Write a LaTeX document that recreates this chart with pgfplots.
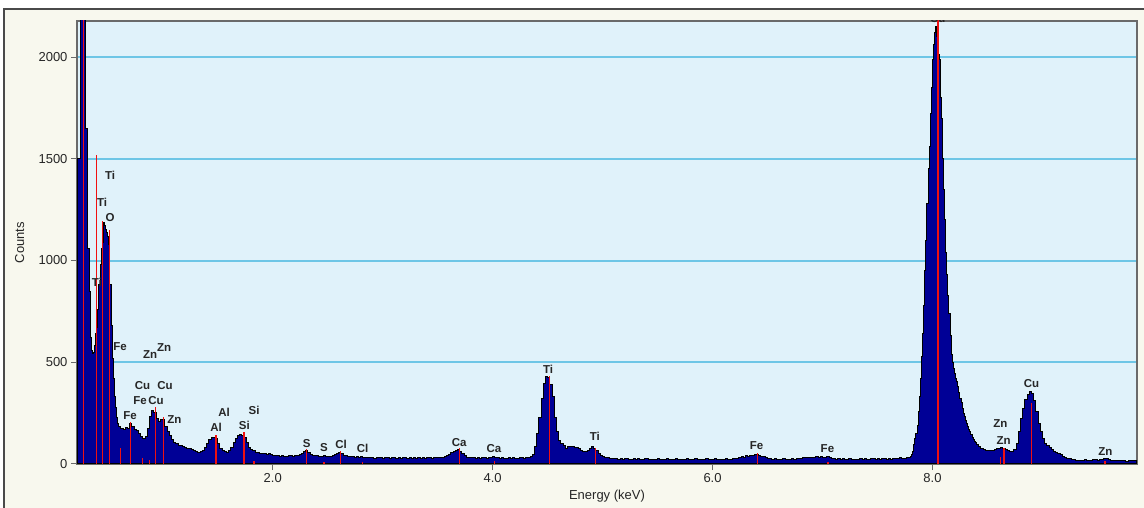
\documentclass[border=0pt]{standalone}
\usepackage{fontspec}
\setmainfont{Liberation Sans}
\usepackage{pgfplots}
\pgfplotsset{compat=1.18}
\definecolor{bgbeige}{HTML}{F8F8EE}
\definecolor{plotbg}{HTML}{E0F2FA}
\definecolor{gridblue}{HTML}{6EC6E6}
\definecolor{navyfill}{HTML}{000096}
\definecolor{markred}{HTML}{F01010}
\definecolor{axisgray}{HTML}{6A6A6A}
\definecolor{framegray}{HTML}{4A4A4A}
\tikzset{lbl/.style={font=\fontsize{11.5}{13}\selectfont\bfseries, text=black!85, inner sep=0pt}}
\begin{document}
\begin{tikzpicture}[x=1pt,y=1pt]
\path[use as bounding box] (0,0) rectangle (1144,508);
\fill[bgbeige] (4,0) rectangle (1144,499);
\draw[framegray, line width=1.2pt] (4,0) -- (4,499) -- (1144,499);
\begin{axis}[
  at={(77pt,44pt)}, anchor=south west,
  scale only axis, width=1060pt, height=443pt,
  xmin=0.22, xmax=9.86, ymin=0, ymax=2177,
  axis background/.style={fill=plotbg},
  xtick={2,4,6,8}, xticklabels={2.0,4.0,6.0,8.0},
  ytick={500,1000,1500,2000}, extra y ticks={0}, extra y tick style={grid=none},
  ymajorgrids, grid style={gridblue, line width=2pt},
  tick pos=left, tick align=outside, major tick length=6pt,
  tick style={axisgray, line width=1pt},
  axis line style={axisgray, line width=1.2pt},
  ticklabel style={font=\fontsize{13}{15}\selectfont, text=black!85},
  /pgf/number format/assume math mode=true,
  /pgf/number format/1000 sep={},
  xlabel={Energy (keV)}, ylabel={Counts},
  every axis x label/.style={at={(axis description cs:0.5,-0.072)}, anchor=center, font=\fontsize{13}{15}\selectfont, text=black!85},
  every axis y label/.style={at={(axis description cs:-0.054,0.5)}, rotate=90, anchor=center, font=\fontsize{13}{15}\selectfont, text=black!85},
]
\addplot[const plot, fill=navyfill, draw=black, line width=1pt] coordinates {
(0.22,1500)(0.23,1500)(0.24,1500)(0.25,3000)(0.26,3000)(0.27,3000)(0.28,3000)(0.29,3000)
(0.30,1650)(0.31,1650)(0.32,1060)(0.33,850)(0.34,620)(0.35,560)(0.36,545)(0.37,550)
(0.38,580)(0.39,640)(0.40,670)(0.41,760)(0.42,880)(0.43,980)(0.44,1060)(0.45,1090)
(0.46,1185)(0.47,1170)(0.48,1150)(0.49,1140)(0.50,1120)(0.51,1080)(0.52,880)(0.53,680)
(0.54,520)(0.55,420)(0.56,330)(0.57,280)(0.58,230)(0.59,200)
(0.60,185)(0.62,175)(0.64,170)(0.66,180)(0.68,175)(0.70,200)(0.72,185)(0.74,170)
(0.76,165)(0.78,150)(0.80,135)(0.82,125)(0.84,135)(0.86,175)(0.88,235)(0.90,265)
(0.92,255)(0.94,225)(0.96,210)(0.98,220)(1.00,218)(1.02,185)(1.04,160)(1.06,140)
(1.08,118)(1.10,108)(1.12,100)(1.14,92)(1.16,90)(1.18,84)(1.20,82)(1.22,78)
(1.24,74)(1.26,72)(1.28,66)(1.30,62)(1.32,58)(1.34,62)(1.36,66)(1.38,80)
(1.40,100)(1.42,120)(1.44,132)(1.46,128)(1.48,125)(1.50,100)(1.52,78)(1.54,66)
(1.56,60)(1.58,58)(1.60,64)(1.62,80)(1.64,105)(1.66,125)(1.68,138)(1.70,145)
(1.72,140)(1.74,128)(1.76,105)(1.78,82)(1.80,72)(1.82,64)(1.84,58)(1.86,56)
(1.88,52)(1.90,54)(1.92,50)(1.94,47)(1.96,50)(1.98,45)(2.00,44)(2.02,40)
(2.04,42)(2.06,38)(2.08,40)(2.10,36)(2.12,38)(2.14,42)(2.16,40)(2.18,37)
(2.20,40)(2.22,44)(2.24,46)(2.26,52)(2.28,60)(2.30,65)(2.32,58)(2.34,48)
(2.36,44)(2.38,40)(2.40,42)(2.42,38)(2.44,36)(2.46,40)(2.48,37)(2.50,35)
(2.52,38)(2.54,40)(2.56,46)(2.58,52)(2.60,55)(2.62,50)(2.64,44)(2.66,40)
(2.68,36)(2.70,38)(2.72,35)(2.74,34)(2.76,37)(2.78,33)(2.80,35)(2.82,30)
(2.84,32)(2.86,34)(2.88,30)(2.90,33)(2.92,29)(2.94,31)(2.96,34)(2.98,30)
(3.00,28)(3.02,32)(3.04,30)(3.06,27)(3.08,31)(3.10,34)(3.12,29)(3.14,30)
(3.16,27)(3.18,32)(3.20,30)(3.22,28)(3.24,31)(3.26,29)(3.28,33)(3.30,28)
(3.32,30)(3.34,27)(3.36,31)(3.38,29)(3.40,32)(3.42,30)(3.44,28)(3.46,31)
(3.48,33)(3.50,30)(3.52,34)(3.54,32)(3.56,36)(3.58,42)(3.60,48)(3.62,55)
(3.64,60)(3.66,66)(3.68,70)(3.70,62)(3.72,50)(3.74,40)(3.76,34)(3.78,32)
(3.80,30)(3.82,33)(3.84,29)(3.86,31)(3.88,28)(3.90,30)(3.92,33)(3.94,29)
(3.96,31)(3.98,34)(4.00,36)(4.02,34)(4.04,30)(4.06,28)(4.08,31)(4.10,29)
(4.12,27)(4.14,30)(4.16,28)(4.18,31)(4.20,29)(4.22,27)(4.24,30)(4.26,32)
(4.28,29)(4.30,31)(4.32,34)(4.34,35)(4.36,45)(4.38,85)(4.40,150)(4.42,230)
(4.44,320)(4.46,395)(4.48,428)(4.50,425)(4.52,390)(4.54,330)(4.56,230)(4.58,160)
(4.60,115)(4.62,100)(4.64,90)(4.66,78)(4.68,85)(4.70,88)(4.72,84)(4.74,80)
(4.76,83)(4.78,75)(4.80,65)(4.82,60)(4.84,62)(4.86,68)(4.88,78)(4.90,84)
(4.92,78)(4.94,65)(4.96,50)(4.98,42)(5.00,36)(5.02,32)(5.04,30)(5.06,28)
(5.08,26)(5.10,25)(5.12,27)(5.14,24)(5.16,26)(5.18,23)(5.20,25)(5.22,27)
(5.24,24)(5.26,22)(5.28,25)(5.30,23)(5.32,26)(5.34,24)(5.36,22)(5.38,25)
(5.40,27)(5.42,23)(5.44,21)(5.46,24)(5.48,22)(5.50,25)(5.52,23)(5.54,21)
(5.56,24)(5.58,26)(5.60,22)(5.62,20)(5.64,23)(5.66,25)(5.68,22)(5.70,24)
(5.72,21)(5.74,23)(5.76,26)(5.78,22)(5.80,20)(5.82,24)(5.84,27)(5.86,22)
(5.88,21)(5.90,24)(5.92,22)(5.94,25)(5.96,23)(5.98,20)(6.00,23)(6.02,26)
(6.04,22)(6.06,24)(6.08,21)(6.10,23)(6.12,25)(6.14,22)(6.16,24)(6.18,27)
(6.20,25)(6.22,28)(6.24,32)(6.26,36)(6.28,34)(6.30,40)(6.32,38)(6.34,44)
(6.36,40)(6.38,46)(6.40,48)(6.42,42)(6.44,36)(6.46,38)(6.48,30)(6.50,27)
(6.52,25)(6.54,23)(6.56,26)(6.58,22)(6.60,24)(6.62,21)(6.64,25)(6.66,23)
(6.68,22)(6.70,24)(6.72,26)(6.74,23)(6.76,25)(6.78,28)(6.80,27)(6.82,30)
(6.84,32)(6.86,31)(6.88,33)(6.90,34)(6.92,32)(6.94,35)(6.96,33)(6.98,36)
(7.00,34)(7.02,32)(7.04,35)(7.06,30)(7.08,27)(7.10,25)(7.12,24)(7.14,26)
(7.16,23)(7.18,25)(7.20,22)(7.22,24)(7.24,26)(7.26,23)(7.28,21)(7.30,24)
(7.32,22)(7.34,25)(7.36,23)(7.38,27)(7.40,24)(7.42,22)(7.44,25)(7.46,28)
(7.48,24)(7.50,26)(7.52,23)(7.54,25)(7.56,27)(7.58,24)(7.60,26)(7.62,23)
(7.64,28)(7.66,25)(7.68,27)(7.70,30)(7.72,26)(7.74,28)(7.76,31)
(7.78,30)(7.79,33)(7.80,35)(7.81,45)(7.82,60)(7.83,95)(7.84,125)(7.85,150)
(7.86,190)(7.87,260)(7.88,330)(7.89,420)(7.90,530)(7.91,640)(7.92,780)(7.93,950)
(7.94,1100)(7.95,1280)(7.96,1450)(7.97,1560)(7.98,1720)(7.99,1850)(8.00,1990)(8.01,2060)
(8.02,2120)(8.03,2150)(8.04,2100)(8.05,2010)(8.06,1990)(8.07,1800)(8.08,1700)(8.09,1500)
(8.10,1350)(8.11,1200)(8.12,1040)(8.13,930)(8.14,830)(8.15,740)(8.16,630)(8.17,540)
(8.18,500)(8.19,470)(8.20,445)(8.21,420)(8.22,405)(8.23,380)(8.24,350)(8.25,320)
(8.26,300)(8.27,275)(8.28,250)(8.29,232)(8.30,215)(8.31,200)(8.32,185)(8.33,170)
(8.34,158)(8.35,145)(8.36,132)(8.37,120)(8.38,112)(8.39,105)
(8.40,96)(8.42,86)(8.44,76)(8.46,70)(8.48,66)(8.50,64)(8.52,66)(8.54,68)
(8.56,70)(8.58,74)(8.60,78)(8.62,80)(8.64,76)(8.66,72)(8.68,66)(8.70,62)
(8.72,62)(8.74,72)(8.76,100)(8.78,160)(8.80,225)(8.82,275)(8.84,315)(8.86,340)
(8.88,355)(8.90,345)(8.92,310)(8.94,260)(8.96,200)(8.98,160)(9.00,125)(9.02,100)
(9.04,92)(9.06,80)(9.08,70)(9.10,62)(9.12,55)(9.14,50)(9.16,45)(9.18,38)
(9.20,32)(9.22,28)(9.24,25)(9.26,22)(9.28,20)(9.30,18)(9.32,19)(9.34,17)
(9.36,18)(9.38,20)(9.40,17)(9.42,19)(9.44,18)(9.46,22)(9.48,20)(9.50,19)
(9.52,22)(9.54,24)(9.56,26)(9.58,25)(9.60,22)(9.62,19)(9.64,18)(9.66,16)
(9.68,18)(9.70,15)(9.72,17)(9.74,16)(9.76,14)(9.78,16)(9.80,15)(9.82,17)
(9.84,15)(9.86,15)
} \closedcycle;
\addplot[ycomb, draw=markred, line width=1.2pt] coordinates {
(0.277,2300)(0.400,1518)(0.452,1194)(0.515,1150)(0.612,80)(0.709,205)(0.818,30)
(0.876,20)(0.933,280)(1.006,231)(1.485,142)(1.739,157)(1.830,15)(2.309,74)
(2.466,12)(2.618,65)(2.815,10)(3.696,78)(4.015,15)(4.515,432)(4.936,78)
(6.410,56)(7.050,10)(8.050,2300)(8.620,33)(8.650,80)(8.900,300)(9.570,15)
};
\node[lbl] at (axis cs:0.521,1420) {Ti};
\node[lbl] at (axis cs:0.448,1286) {Ti};
\node[lbl] at (axis cs:0.521,1212) {O};
\node[lbl] at (axis cs:0.400,891) {Ti};
\node[lbl] at (axis cs:0.612,576) {Fe};
\node[lbl] at (axis cs:0.885,536) {Zn};
\node[lbl] at (axis cs:1.012,571) {Zn};
\node[lbl] at (axis cs:0.815,385) {Cu};
\node[lbl] at (axis cs:1.021,385) {Cu};
\node[lbl] at (axis cs:0.794,311) {Fe};
\node[lbl] at (axis cs:0.939,311) {Cu};
\node[lbl] at (axis cs:0.703,237) {Fe};
\node[lbl] at (axis cs:1.105,216) {Zn};
\node[lbl] at (axis cs:1.557,254) {Al};
\node[lbl] at (axis cs:1.485,178) {Al};
\node[lbl] at (axis cs:1.830,262) {Si};
\node[lbl] at (axis cs:1.742,192) {Si};
\node[lbl] at (axis cs:2.309,102) {S};
\node[lbl] at (axis cs:2.466,80) {S};
\node[lbl] at (axis cs:2.621,95) {Cl};
\node[lbl] at (axis cs:2.818,77) {Cl};
\node[lbl] at (axis cs:3.696,107) {Ca};
\node[lbl] at (axis cs:4.012,77) {Ca};
\node[lbl] at (axis cs:4.505,465) {Ti};
\node[lbl] at (axis cs:4.930,134) {Ti};
\node[lbl] at (axis cs:6.400,88) {Fe};
\node[lbl] at (axis cs:7.045,77) {Fe};
\node[lbl] at (axis cs:8.618,197) {Zn};
\node[lbl] at (axis cs:8.648,114) {Zn};
\node[lbl] at (axis cs:8.900,397) {Cu};
\node[lbl] at (axis cs:9.573,60) {Zn};
\node[lbl, anchor=south] at (axis cs:8.048,2168) {Cu};
\end{axis}
\end{tikzpicture}
\end{document}
